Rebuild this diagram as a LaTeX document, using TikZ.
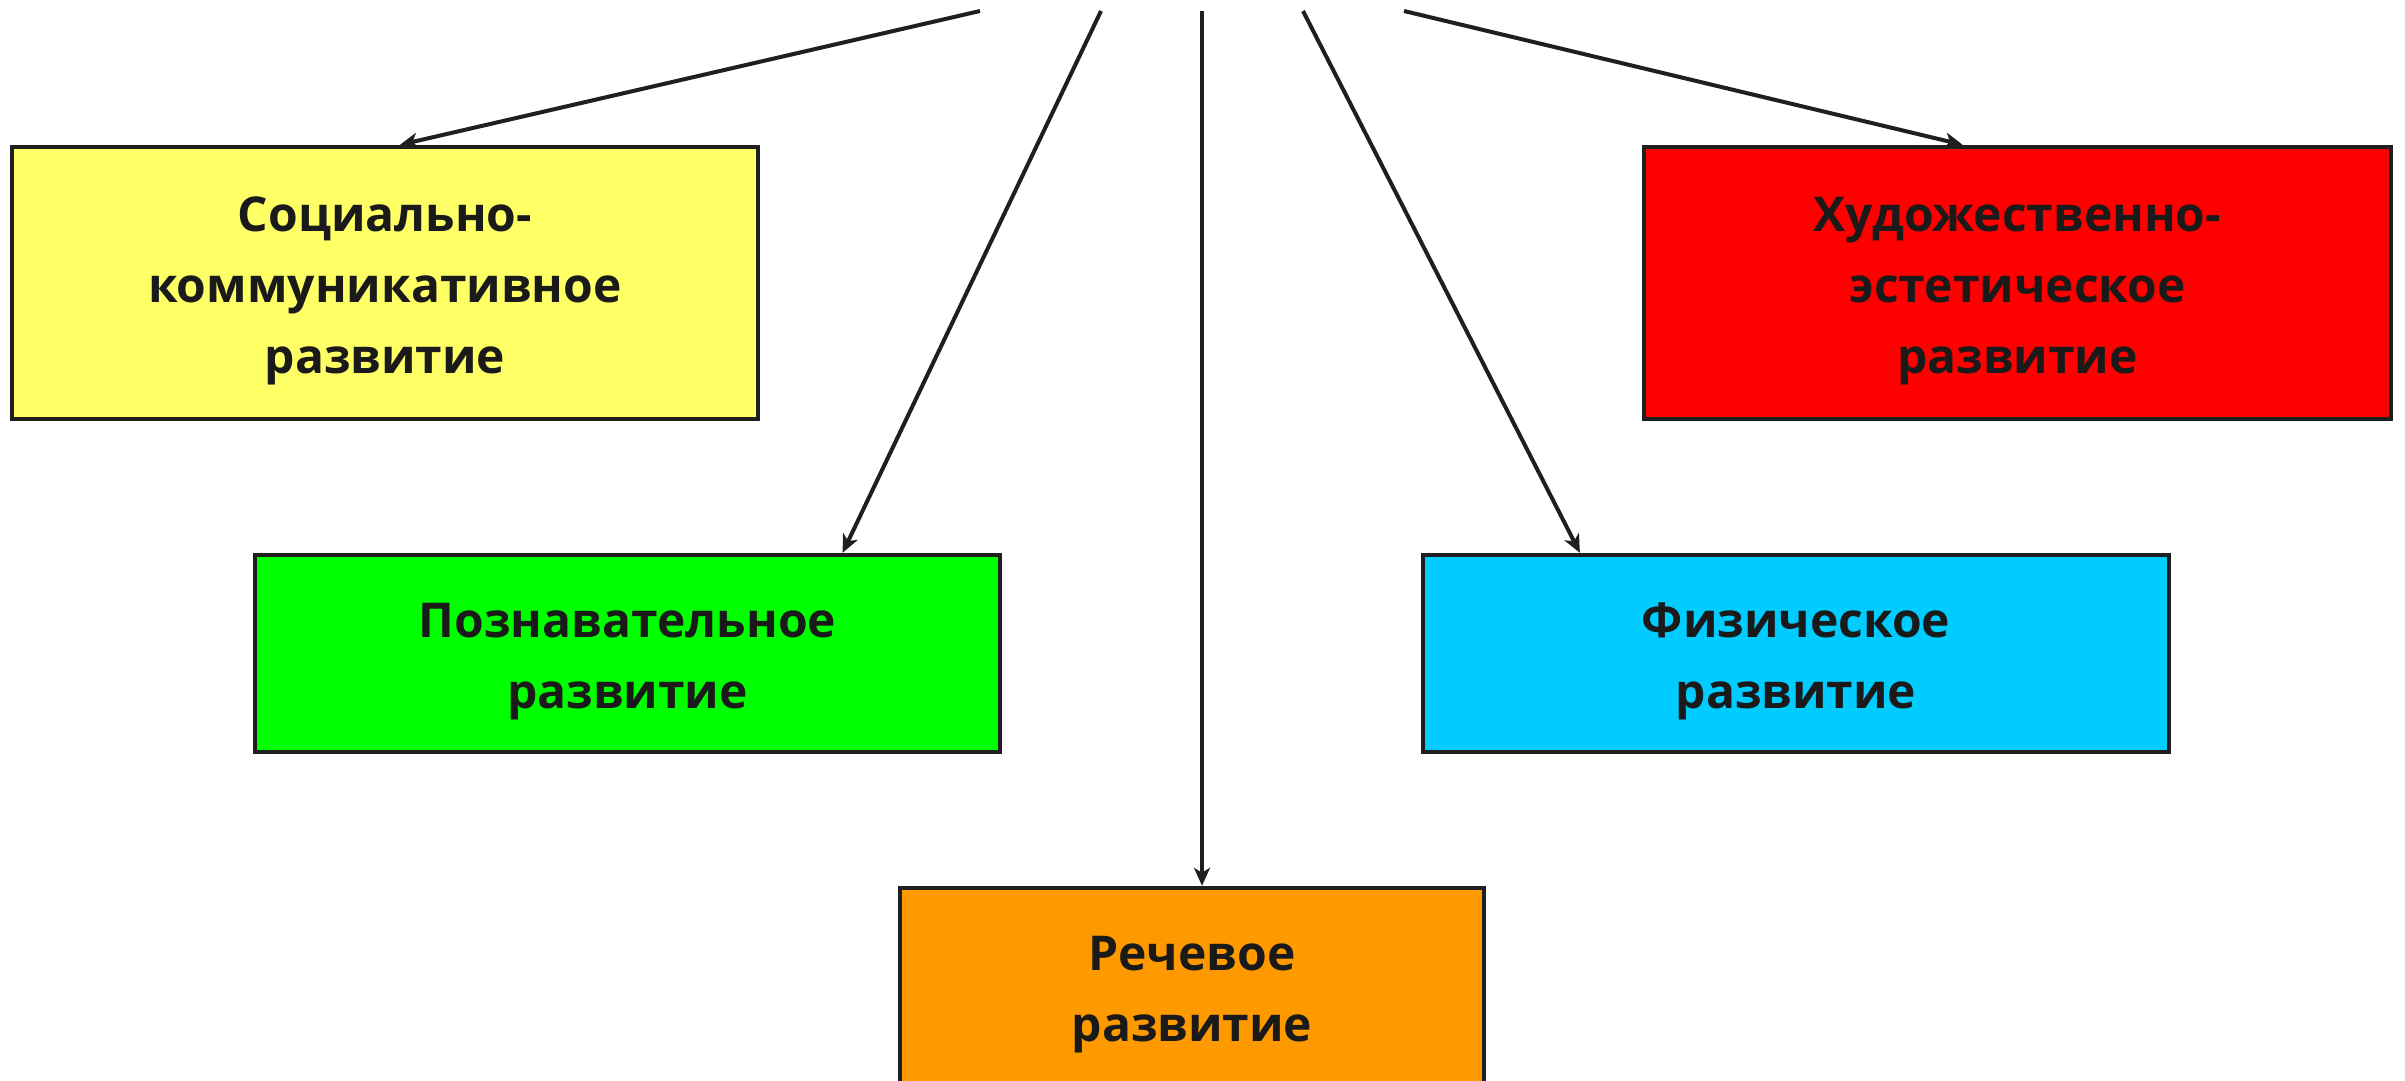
\documentclass[tikz,border=0pt]{standalone}
\usepackage{fontspec}
\setmainfont{Open Sans}
\usetikzlibrary{arrows.meta,calc}
\definecolor{txt}{HTML}{1A1A1A}
\definecolor{bord}{HTML}{1F1F1F}
\definecolor{cyel}{HTML}{FFFF66}
\definecolor{cred}{HTML}{FF0000}
\definecolor{cgrn}{HTML}{00FF00}
\definecolor{ccya}{HTML}{00CCFF}
\definecolor{cora}{HTML}{FF9900}
\newcommand\myfirstline{\rule{0pt}{25pt}}
\tikzset{
  box/.style={draw=bord, line width=2.2pt, rectangle, align=center, inner sep=0pt,
    text=txt, font=\fontsize{24}{35.5}\selectfont\bfseries},
  arr/.style={draw=bord, line width=2pt, -{Stealth[length=9pt,width=8pt,inset=2.5pt]}},
}
\begin{document}
\begin{tikzpicture}[x=0.5pt,y=-0.5pt]
\useasboundingbox (0,0) rectangle (2405,1081);
\clip (0,0) rectangle (2405,1081);
\node[box, fill=cyel, minimum width=373pt, minimum height=136pt] (yel) at (385,283)
  {\myfirstline Социально-\\коммуникативное\\развитие};
\node[box, fill=cred, minimum width=373.5pt, minimum height=136pt] (red) at (2017.5,283)
  {\myfirstline Художественно-\\эстетическое\\развитие};
\node[box, fill=cgrn, minimum width=372.5pt, minimum height=98.5pt] (grn) at (627.5,653.5)
  {\myfirstline Познавательное\\развитие};
\node[box, fill=ccya, minimum width=373pt, minimum height=98.5pt] (cya) at (1796,653.5)
  {\myfirstline Физическое\\развитие};
\node[box, fill=cora, minimum width=292pt, minimum height=98.5pt] (ora) at (1192,986.5)
  {\myfirstline Речевое\\развитие};
\coordinate (s1) at (980,11);
\coordinate (s2) at (1101,11);
\coordinate (s3) at (1202,11);
\coordinate (s4) at (1303,11);
\coordinate (s5) at (1404,11);
\draw[arr] (s1) -- ($(yel.north west)!0.52!(yel.north east)$);
\draw[arr] (s2) -- ($(grn.north west)!0.787!(grn.north east)$);
\draw[arr] (s3) -- (s3 |- ora.north);
\draw[arr] (s4) -- ($(cya.north west)!0.212!(cya.north east)$);
\draw[arr] (s5) -- ($(red.north west)!0.427!(red.north east)$);
\end{tikzpicture}
\end{document}
